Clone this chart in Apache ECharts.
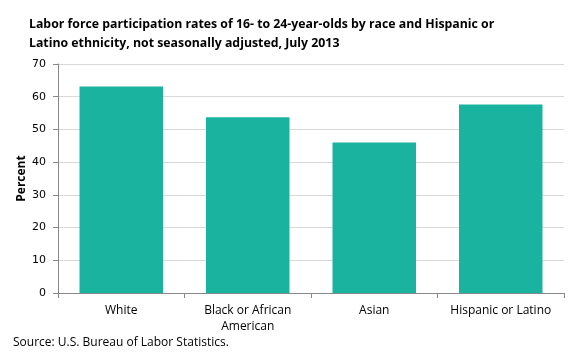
<!DOCTYPE html>
<html><head><meta charset="utf-8">
<script src="https://cdn.jsdelivr.net/npm/echarts@6/dist/echarts.min.js"></script>
<style>html,body{margin:0;padding:0;background:#fff}#c{width:580px;height:360px}</style>
</head><body><div id="c"></div>
<script>
const categories = ['White', 'Black or African\nAmerican', 'Asian', 'Hispanic or Latino'];
const values = [63.1, 53.7, 46.0, 57.6];
const titleText = 'Labor force participation rates of 16- to 24-year-olds by race and Hispanic or\nLatino ethnicity, not seasonally adjusted, July 2013';
const sourceText = 'Source: U.S. Bureau of Labor Statistics.';
const yName = 'Percent';

const chart = echarts.init(document.getElementById('c'));
chart.setOption({
  animation: false,
  title: {
    text: titleText, left: 29, top: 15, padding: 0,
    textStyle: { fontFamily: 'Open Sans', fontWeight: 'bold', fontSize: 12.3, lineHeight: 19, color: '#000' }
  },
  graphic: [{
    type: 'text', left: 13, top: 337,
    style: { text: sourceText, font: '12px "Open Sans"', fill: '#000' }
  }],
  grid: { left: 58, right: 16, top: 64, bottom: 67 },
  xAxis: {
    type: 'category', data: categories,
    axisLine: { lineStyle: { color: '#888' } },
    axisTick: { show: true, length: 5, lineStyle: { color: '#888' } },
    axisLabel: { interval: 0, color: '#000', fontFamily: 'Open Sans', fontSize: 12, margin: 10, lineHeight: 16 }
  },
  yAxis: {
    type: 'value', min: 0, max: 70, interval: 10,
    name: yName, nameLocation: 'middle', nameGap: 30, nameMoveOverlap: false,
    nameTextStyle: { fontFamily: 'Open Sans', fontWeight: 'bold', fontSize: 12, color: '#000' },
    axisLine: { show: true, lineStyle: { color: '#888' } },
    axisTick: { show: true, length: 5, lineStyle: { color: '#888' } },
    axisLabel: { color: '#000', fontFamily: 'DejaVu Sans', fontSize: 11, margin: 12 },
    splitLine: { lineStyle: { color: '#d9d9d9' } }
  },
  series: [{
    type: 'bar', data: values, barWidth: '66%',
    itemStyle: { color: '#1AB39F' }
  }]
});
</script></body></html>
